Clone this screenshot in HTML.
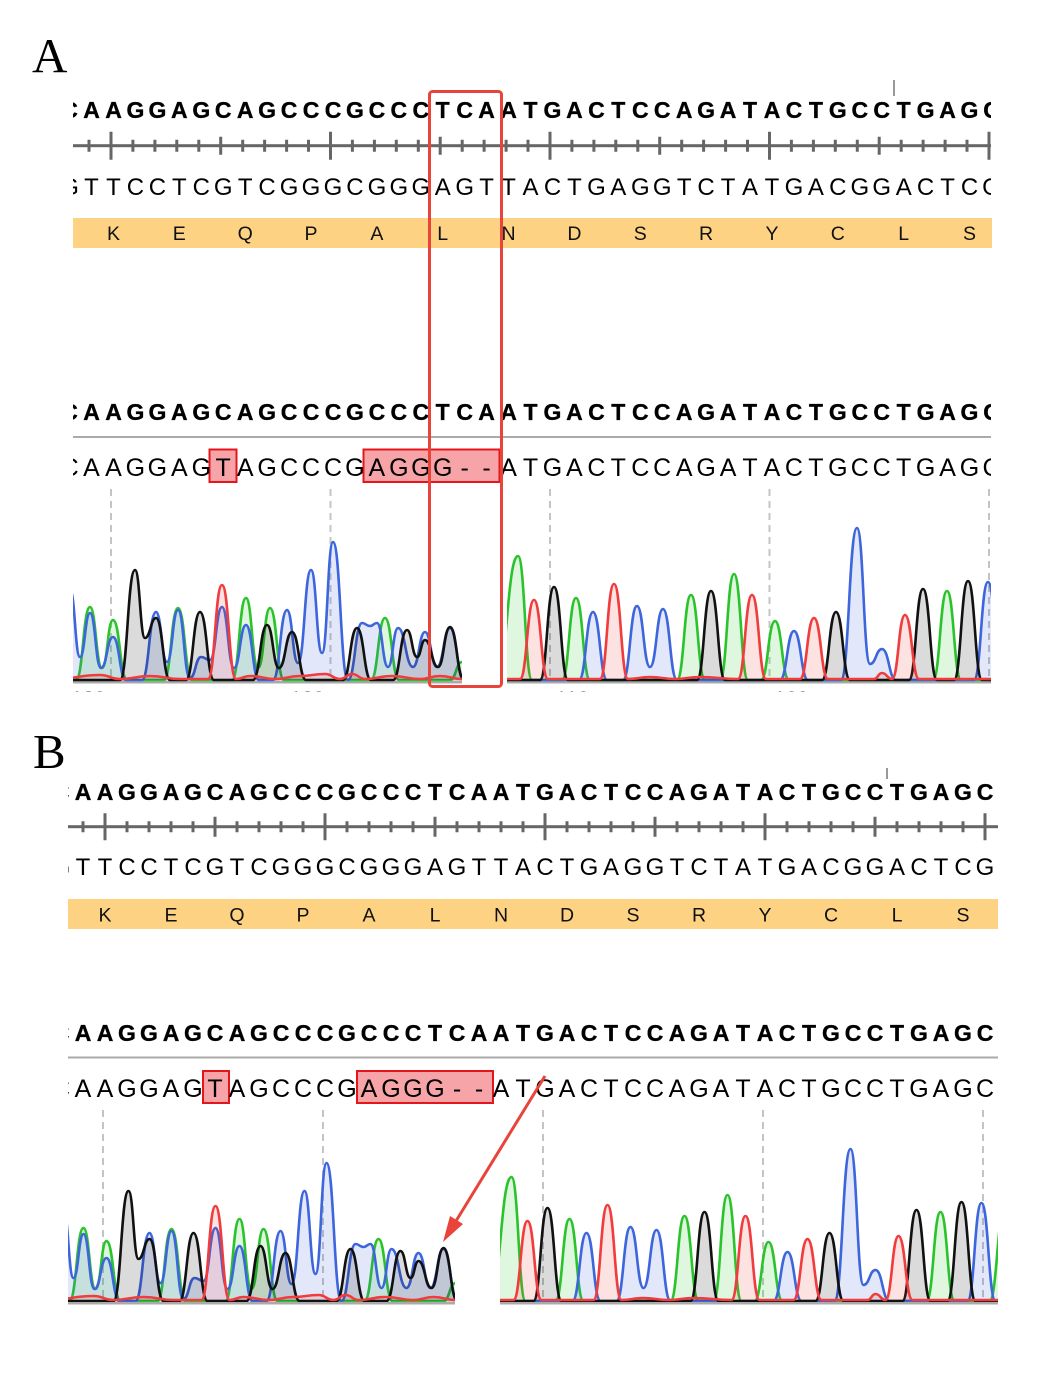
<!DOCTYPE html>
<html>
<head>
<meta charset="utf-8">
<style>
html,body{margin:0;padding:0;background:#fff;}
svg{display:block;}
.b{font-family:"Liberation Sans",Arial,sans-serif;font-weight:bold;font-size:23px;fill:#000;stroke:#000;stroke-width:0.35px;}
.r{font-family:"Liberation Sans",Arial,sans-serif;font-size:24px;fill:#000;}
.rd{font-family:"Liberation Sans",Arial,sans-serif;font-size:25px;fill:#000;}
.aa{font-family:"Liberation Sans",Arial,sans-serif;font-size:19.5px;fill:#111;}
.lab{font-family:"Liberation Serif","Times New Roman",serif;font-size:49px;fill:#000;}
.tl{font-family:"Liberation Sans",Arial,sans-serif;font-size:15px;fill:#999;letter-spacing:3px;}
</style>
</head>
<body>
<svg xmlns="http://www.w3.org/2000/svg" xmlns:xlink="http://www.w3.org/1999/xlink" width="1052" height="1386" viewBox="0 0 1052 1386">
<defs>
  <clipPath id="cA"><rect x="73" y="0" width="918" height="1386"/></clipPath>
  <clipPath id="cB"><rect x="68" y="0" width="930" height="1386"/></clipPath>
  <clipPath id="tA"><rect x="73" y="460" width="389" height="222"/><rect x="507" y="460" width="484" height="222"/></clipPath>
  <clipPath id="tB"><rect x="68" y="1080" width="387" height="222"/><rect x="500" y="1080" width="498" height="222"/></clipPath>
  <clipPath id="labc"><rect x="60" y="686" width="800" height="6"/></clipPath>
  <g id="chrom" stroke-width="2.6" stroke-linejoin="round">
    <!-- green -->
    <path fill="rgba(40,195,40,0.15)" stroke="#2bc32b" d="M55 680 L76 680 C83 680 83 607 90 607 C96 607 96 668 102 668 C107.5 668 107.5 620 113 620 C120 620 120 680 127 680 L164 680 C171 680 171 608 178 608 C185 608 185 680 192 680 L232 680 C239 680 239 598 246 598 C252 598 252 668 258 668 C264 668 264 608 270 608 C277 608 277 680 284 680 L371 680 C378 680 378 618 385 618 C392 618 392 680 399 680 L450 680 C456 680 456 662 462 662 C467 662 467 680 472 680 L496 680 C507 680 507 556 518 556 C525 556 525 680 532 680 L562 680 C569 680 569 598 576 598 C583 598 583 680 590 680 L677 680 C684 680 684 595 691 595 C698 595 698 680 705 680 L720 680 C727 680 727 574 734 574 C741 574 741 680 748 680 L761 680 C768 680 768 621 775 621 C782 621 782 680 789 680 L933 680 C940 680 940 591 947 591 C954 591 954 680 961 680 L996 680 C1003.5 680 1003.5 590 1011 590 C1018 590 1018 680 1025 680 L1030 680"/>
    <!-- blue -->
    <path fill="rgba(60,100,220,0.15)" stroke="#3d65dc" d="M55 680 L55 640 C62.5 640 62.5 590 70 590 C75 590 75 657 80 657 C85 657 85 613 90 613 C95.5 613 95.5 668 101 668 C107 668 107 637 113 637 C119.5 637 119.5 680 126 680 L142 680 C149 680 149 612 156 612 C161.5 612 161.5 662 167 662 C172.5 662 172.5 610 178 610 C184 610 184 678 190 678 C195.5 678 195.5 657 201 657 C205.5 657 205.5 660 210 660 C216 660 216 607 222 607 C228 607 228 668 234 668 C240 668 240 625 246 625 C252.5 625 252.5 680 259 680 L273 680 C280 680 280 610 287 610 C292.5 610 292.5 663 298 663 C304.5 663 304.5 570 311 570 C316.5 570 316.5 653 322 653 C327.5 653 327.5 542 333 542 C340.5 542 340.5 680 348 680 C355 680 355 623 362 623 C366 623 366 626 370 626 C373.5 626 373.5 623 377 623 C382.5 623 382.5 667 388 667 C393 667 393 628 398 628 C405.5 628 405.5 667 413 667 C419 667 419 632 425 632 C431 632 431 667 437 667 C443.5 667 443.5 628 450 628 C457 628 457 680 464 680 L579 680 C586 680 586 612 593 612 C600 612 600 680 607 680 L623 680 C630 680 630 606 637 606 C643.5 606 643.5 667 650 667 C656.5 667 656.5 609 663 609 C670 609 670 680 677 680 L780 680 C787 680 787 631 794 631 C801 631 801 680 808 680 L841 680 C849 680 849 528 857 528 C863.5 528 863.5 664 870 664 C876 664 876 649 882 649 C889 649 889 680 896 680 L974 680 C981 680 981 582 988 582 C995 582 995 680 1002 680 L1030 680"/>
    <!-- black -->
    <path fill="rgba(0,0,0,0.14)" stroke="#111" d="M55 680 L120 680 C127.5 680 127.5 570 135 570 C140 570 140 638 145 638 C150.5 638 150.5 618 156 618 C163 618 163 680 170 680 L186 680 C193 680 193 612 200 612 C207 612 207 680 214 680 L253 680 C260 680 260 625 267 625 C273 625 273 668 279 668 C285.5 668 285.5 632 292 632 C299 632 299 680 306 680 L343 680 C350 680 350 628 357 628 C364 628 364 680 371 680 L393 680 C400 680 400 630 407 630 C412 630 412 657 417 657 C421 657 421 640 425 640 C431.5 640 431.5 667 438 667 C444 667 444 627 450 627 C457 627 457 680 464 680 L540 680 C547 680 547 587 554 587 C561 587 561 680 568 680 L697 680 C704 680 704 591 711 591 C718 591 718 680 725 680 L822 680 C829 680 829 612 836 612 C843 612 843 680 850 680 L909 680 C916 680 916 589 923 589 C930 589 930 680 937 680 L954 680 C961 680 961 581 968 581 C975 581 975 680 982 680 L1030 680"/>
    <!-- red -->
    <path fill="rgba(238,51,51,0.14)" stroke="#f03c3c" d="M55 679 C77.5 679 77.5 675 100 675 C110 675 110 679 120 679 C135 679 135 676 150 676 C165 676 165 679 180 679 L208 679 C215 679 215 585 222 585 C229 585 229 679 236 679 C243 679 243 676 250 676 C262.5 676 262.5 679 275 679 C287.5 679 287.5 676 300 676 C312.5 676 312.5 674 325 674 C332.5 674 332.5 679 340 679 C346 679 346 674 352 674 C358.5 674 358.5 679 365 679 C378.5 679 378.5 676 392 676 C406 676 406 679 420 679 C430 679 430 676 440 676 C451 676 451 679 462 679 L520 679 C527 679 527 600 534 600 C541 600 541 679 548 679 L600 679 C607 679 607 584 614 584 C621 584 621 679 628 679 C639 679 639 677 650 677 C662.5 677 662.5 679 675 679 C687.5 679 687.5 677 700 677 C719 677 719 679 738 679 C745 679 745 595 752 595 C759 595 759 679 766 679 L800 679 C807 679 807 618 814 618 C821 618 821 679 828 679 L874 679 C878 679 878 673 882 673 C887 673 887 679 892 679 C898.5 679 898.5 615 905 615 C912 615 912 679 919 679 L1030 679"/>
  </g>
</defs>
<rect x="0" y="0" width="1052" height="1386" fill="#fff"/>

<!-- ================= PANEL A ================= -->
<text class="lab" x="32" y="72">A</text>
<rect x="893" y="80" width="2" height="16" fill="#999"/>

<g clip-path="url(#cA)">
  <text class="b" text-anchor="middle" y="118" x="69.6 91.5 113.5 135.4 157.4 179.3 201.3 223.2 245.2 267.1 289.1 311 333 354.9 376.9 398.8 420.8 442.7 464.7 486.6 508.6 530.5 552.5 574.4 596.4 618.3 640.3 662.2 684.2 706.1 728.1 750 772 793.9 815.9 837.8 859.8 881.7 903.7 925.6 947.6 969.5 991.5">CAAGGAGCAGCCCGCCCTCAATGACTCCAGATACTGCCTGAGC</text>

  <text class="r" text-anchor="middle" y="195" x="69.6 91.5 113.5 135.4 157.4 179.3 201.3 223.2 245.2 267.1 289.1 311 333 354.9 376.9 398.8 420.8 442.7 464.7 486.6 508.6 530.5 552.5 574.4 596.4 618.3 640.3 662.2 684.2 706.1 728.1 750 772 793.9 815.9 837.8 859.8 881.7 903.7 925.6 947.6 969.5 991.5">GTTCCTCGTCGGGCGGGAGTTACTGAGGTCTATGACGGACTCG</text>

  <text class="b" text-anchor="middle" y="420" x="69.6 91.5 113.5 135.4 157.4 179.3 201.3 223.2 245.2 267.1 289.1 311 333 354.9 376.9 398.8 420.8 442.7 464.7 486.6 508.6 530.5 552.5 574.4 596.4 618.3 640.3 662.2 684.2 706.1 728.1 750 772 793.9 815.9 837.8 859.8 881.7 903.7 925.6 947.6 969.5 991.5">CAAGGAGCAGCCCGCCCTCAATGACTCCAGATACTGCCTGAGC</text>

  <rect x="209.5" y="449.5" width="27" height="32.5" fill="#f6a4a8" stroke="#e4161c" stroke-width="2"/>
  <rect x="363.5" y="449.5" width="136" height="32.5" fill="#f6a4a8" stroke="#e4161c" stroke-width="2"/>
  <text class="rd" text-anchor="middle" y="476" x="69.6 91.5 113.5 135.4 157.4 179.3 201.3 223.2 245.2 267.1 289.1 311 333 354.9 376.9 398.8 420.8 442.7 464.7 486.6 508.6 530.5 552.5 574.4 596.4 618.3 640.3 662.2 684.2 706.1 728.1 750 772 793.9 815.9 837.8 859.8 881.7 903.7 925.6 947.6 969.5 991.5">CAAGGAGTAGCCCGAGGG--ATGACTCCAGATACTGCCTGAGC</text>
</g>

<!-- ruler A -->
<rect x="73" y="144.2" width="918" height="3" fill="#666"/>
<path fill="none" stroke="#666" stroke-width="3" d="M89 139.7V151.7M132.9 139.7V151.7M154.9 139.7V151.7M176.8 139.7V151.7M198.8 139.7V151.7M242.7 139.7V151.7M264.6 139.7V151.7M286.6 139.7V151.7M308.5 139.7V151.7M352.4 139.7V151.7M374.4 139.7V151.7M396.3 139.7V151.7M418.3 139.7V151.7M462.2 139.7V151.7M484.1 139.7V151.7M506.1 139.7V151.7M528 139.7V151.7M571.9 139.7V151.7M593.9 139.7V151.7M615.8 139.7V151.7M637.8 139.7V151.7M681.7 139.7V151.7M703.6 139.7V151.7M725.6 139.7V151.7M747.5 139.7V151.7M791.4 139.7V151.7M813.4 139.7V151.7M835.3 139.7V151.7M857.3 139.7V151.7M901.2 139.7V151.7M923.1 139.7V151.7M945.1 139.7V151.7M967 139.7V151.7M220.7 136.7V154.7M440.2 136.7V154.7M659.7 136.7V154.7M879.2 136.7V154.7M111 131.7V159.7M330.5 131.7V159.7M550 131.7V159.7M769.5 131.7V159.7M989 131.7V159.7"/>

<!-- amino bar A -->
<rect x="73" y="218" width="919" height="30" fill="#fdd283"/>
<text class="aa" text-anchor="middle" y="240" x="113.5 179.3 245.2 311 376.9 442.7 508.6 574.4 640.3 706.1 772 837.8 903.7 969.5">KEQPALNDSRYCLS</text>

<!-- separator A -->
<rect x="73" y="436" width="918" height="2" fill="#aaa"/>

<!-- dashed lines A -->
<g stroke="#c4c4c4" stroke-width="2" stroke-dasharray="7,5">
  <line x1="111" y1="489" x2="111" y2="680"/>
  <line x1="330.5" y1="489" x2="330.5" y2="680"/>
  <line x1="550" y1="489" x2="550" y2="680"/>
  <line x1="769.5" y1="489" x2="769.5" y2="680"/>
  <line x1="989" y1="489" x2="989" y2="680"/>
</g>

<!-- axis A -->
<rect x="73" y="680.5" width="389" height="3" fill="#aaa"/>
<rect x="507" y="680.5" width="484" height="3" fill="#aaa"/>

<g clip-path="url(#tA)"><use href="#chrom" xlink:href="#chrom"/></g>

<g clip-path="url(#labc)">
  <text class="tl" text-anchor="middle" x="90" y="701">130</text>
  <text class="tl" text-anchor="middle" x="309" y="701">120</text>
  <text class="tl" text-anchor="middle" x="574" y="701">110</text>
  <text class="tl" text-anchor="middle" x="793" y="701">100</text>
</g>

<!-- red frame A -->
<rect x="429.5" y="91.5" width="72" height="595" rx="3" ry="3" fill="none" stroke="#e8443a" stroke-width="3"/>

<!-- ================= PANEL B ================= -->
<text class="lab" x="33" y="768">B</text>
<rect x="886" y="768" width="2" height="11" fill="#999"/>

<g clip-path="url(#cB)">
  <text class="b" text-anchor="middle" y="800" x="61 83 105 127 149 171 193 215 237 259 281 303 325 347 369 391 413 435 457 479 501 523 545 567 589 611 633 655 677 699 721 743 765 787 809 831 853 875 897 919 941 963 985">CAAGGAGCAGCCCGCCCTCAATGACTCCAGATACTGCCTGAGC</text>

  <text class="r" text-anchor="middle" y="875" x="61 83 105 127 149 171 193 215 237 259 281 303 325 347 369 391 413 435 457 479 501 523 545 567 589 611 633 655 677 699 721 743 765 787 809 831 853 875 897 919 941 963 985">GTTCCTCGTCGGGCGGGAGTTACTGAGGTCTATGACGGACTCG</text>

  <text class="b" text-anchor="middle" y="1041" x="61 83 105 127 149 171 193 215 237 259 281 303 325 347 369 391 413 435 457 479 501 523 545 567 589 611 633 655 677 699 721 743 765 787 809 831 853 875 897 919 941 963 985">CAAGGAGCAGCCCGCCCTCAATGACTCCAGATACTGCCTGAGC</text>

  <rect x="203" y="1071" width="26" height="32" fill="#f6a4a8" stroke="#e4161c" stroke-width="2"/>
  <rect x="357" y="1071" width="136" height="32" fill="#f6a4a8" stroke="#e4161c" stroke-width="2"/>
  <text class="rd" text-anchor="middle" y="1097" x="61 83 105 127 149 171 193 215 237 259 281 303 325 347 369 391 413 435 457 479 501 523 545 567 589 611 633 655 677 699 721 743 765 787 809 831 853 875 897 919 941 963 985">CAAGGAGTAGCCCGAGGG--ATGACTCCAGATACTGCCTGAGC</text>
</g>

<!-- ruler B -->
<rect x="68" y="825.2" width="930" height="3" fill="#666"/>
<path fill="none" stroke="#666" stroke-width="3" d="M83 821.2V832.2M127 821.2V832.2M149 821.2V832.2M171 821.2V832.2M193 821.2V832.2M237 821.2V832.2M259 821.2V832.2M281 821.2V832.2M303 821.2V832.2M347 821.2V832.2M369 821.2V832.2M391 821.2V832.2M413 821.2V832.2M457 821.2V832.2M479 821.2V832.2M501 821.2V832.2M523 821.2V832.2M567 821.2V832.2M589 821.2V832.2M611 821.2V832.2M633 821.2V832.2M677 821.2V832.2M699 821.2V832.2M721 821.2V832.2M743 821.2V832.2M787 821.2V832.2M809 821.2V832.2M831 821.2V832.2M853 821.2V832.2M897 821.2V832.2M919 821.2V832.2M941 821.2V832.2M963 821.2V832.2M215 816.7V836.7M435 816.7V836.7M655 816.7V836.7M875 816.7V836.7M105 813.2V840.2M325 813.2V840.2M545 813.2V840.2M765 813.2V840.2M985 813.2V840.2"/>

<!-- amino bar B -->
<rect x="68" y="899" width="930" height="30" fill="#fdd283"/>
<text class="aa" text-anchor="middle" y="921.5" x="105 171 237 303 369 435 501 567 633 699 765 831 897 963">KEQPALNDSRYCLS</text>

<!-- separator B -->
<rect x="68" y="1056.5" width="930" height="2" fill="#aaa"/>

<!-- dashed lines B -->
<g stroke="#c4c4c4" stroke-width="2" stroke-dasharray="7,5">
  <line x1="103" y1="1110" x2="103" y2="1300"/>
  <line x1="323" y1="1110" x2="323" y2="1300"/>
  <line x1="543" y1="1110" x2="543" y2="1300"/>
  <line x1="763" y1="1110" x2="763" y2="1300"/>
  <line x1="983" y1="1110" x2="983" y2="1300"/>
</g>

<!-- axis B -->
<rect x="68" y="1301.5" width="387" height="3" fill="#aaa"/>
<rect x="500" y="1301.5" width="498" height="3" fill="#aaa"/>

<g clip-path="url(#tB)"><use href="#chrom" xlink:href="#chrom" transform="translate(-6.5,621)"/></g>

<!-- red arrow B -->
<line x1="545" y1="1076" x2="456" y2="1221" stroke="#e8443a" stroke-width="3"/>
<polygon points="443,1242 463,1224 450,1216" fill="#e8443a"/>
</svg>
</body>
</html>
